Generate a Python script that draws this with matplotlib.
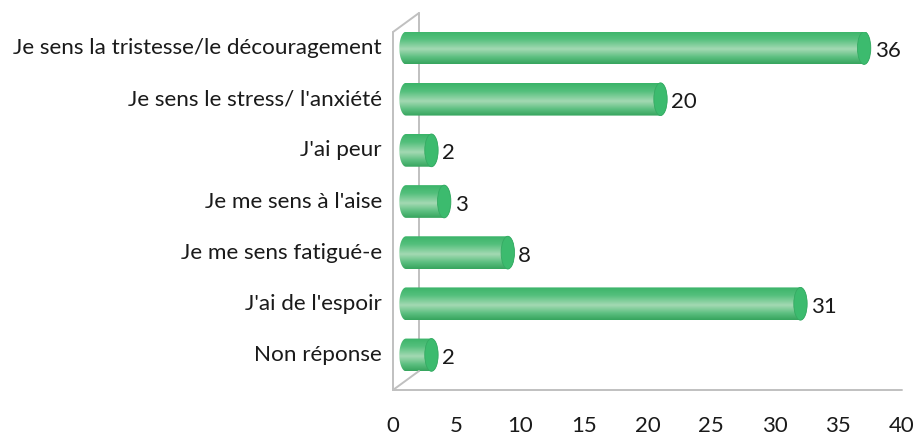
import numpy as np
import matplotlib.pyplot as plt
from matplotlib.path import Path
from matplotlib.patches import PathPatch, Ellipse
from matplotlib.transforms import ScaledTranslation
from matplotlib.colors import LinearSegmentedColormap

plt.rcParams['font.family'] = ['Lato', 'DejaVu Sans']

labels = ["Je sens la tristesse/le découragement", "Je sens le stress/ l'anxiété",
          "J'ai peur", "Je me sens à l'aise", "Je me sens fatigué-e",
          "J'ai de l'espoir", "Non réponse"]
values = [36, 20, 2, 3, 8, 31, 2]
xticks = [0, 5, 10, 15, 20, 25, 30, 35, 40]

W, H = 916, 437
fig = plt.figure(figsize=(W / 100, H / 100), dpi=100)
ax = fig.add_axes([393 / W, 1 - 390 / H, 509 / W, 358 / H])
ax.set_xlim(0, 40)
n = len(values)
ax.set_ylim(n - 0.5, -0.5)
ax.axis('off')

# 3d depth offsets in inches
dx, dy = 26 / 100, 19 / 100
back = ax.transData + ScaledTranslation(dx, dy, fig.dpi_scale_trans)
mid = ax.transData + ScaledTranslation(dx / 2, dy / 2, fig.dpi_scale_trans)

wall = dict(color='#c0c0c0', lw=1.4, solid_capstyle='round')
ax.plot([0, 0], [n - 0.5, -0.5], clip_on=False, **wall)
ax.plot([0, 40], [n - 0.5, n - 0.5], clip_on=False, **wall)
ax.plot([0, 0], [n - 0.5, -0.5], clip_on=False, transform=back, **wall)
# connecting diagonals between front and back walls
fw, fh = fig.get_size_inches() * 100
for yy in (-0.5, n - 0.5):
    p0 = ax.transData.transform((0, yy))
    p1 = back.transform((0, yy))
    fig.add_artist(plt.Line2D([p0[0] / fw, p1[0] / fw], [p0[1] / fh, p1[1] / fh],
                              transform=fig.transFigure, **wall))

cmap = LinearSegmentedColormap.from_list('cyl', [
    (0.0, '#3bb469'), (0.25, '#55c07d'), (0.55, '#a4d9b3'),
    (0.8, '#5cbf80'), (1.0, '#37a55e')])
grad = np.linspace(0, 1, 64).reshape(-1, 1)

h = 0.64
ew = 1.05
for i, v in enumerate(values):
    t = np.linspace(np.pi / 2, 3 * np.pi / 2, 30)
    left = np.column_stack([ew / 2 * np.cos(t), i - h / 2 * np.sin(t)])
    t2 = np.linspace(-np.pi / 2, np.pi / 2, 30)
    right = np.column_stack([v + ew / 2 * np.cos(t2), i - h / 2 * np.sin(t2)])
    verts = np.vstack([left, right, left[:1]])
    patch = PathPatch(Path(verts), facecolor='none', edgecolor='none', transform=mid)
    ax.add_patch(patch)
    im = ax.imshow(grad, cmap=cmap, aspect='auto', interpolation='bilinear',
                   extent=[-ew, v + ew, i + h / 2, i - h / 2], transform=mid, zorder=2)
    im.set_clip_path(patch)
    cap = Ellipse((v, i), ew, h, facecolor='#3cbb6e', edgecolor='#35aa63', lw=0.6,
                  transform=mid, zorder=3)
    ax.add_patch(cap)
    ax.text(v + ew / 2 + 0.3, i + 0.06, str(v), transform=mid, ha='left', va='center',
            fontsize=16, color='#1a1a1a', zorder=4)
    ax.text(-1.9, i, labels[i], transform=mid, ha='right', va='center',
            fontsize=16.2, color='#1a1a1a')

for xt in xticks:
    ax.text(xt, n - 0.5 + 0.7, str(xt), ha='center', va='center', fontsize=16,
            color='#1a1a1a', clip_on=False)

fig.savefig('out.png', dpi=100)
